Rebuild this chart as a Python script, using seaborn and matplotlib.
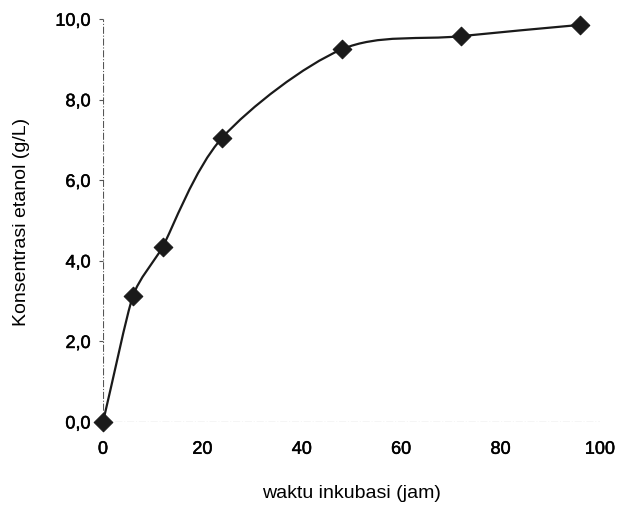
import numpy as np
import pandas as pd
import matplotlib
matplotlib.use("Agg")
import matplotlib.pyplot as plt
import matplotlib.patheffects as pe
from matplotlib.path import Path
from matplotlib.patches import PathPatch
import seaborn as sns

# data
waktu = [0, 6, 12, 24, 48, 72, 96]            # waktu inkubasi (jam)
etanol = [0.0, 3.12, 4.35, 7.06, 9.25, 9.58, 9.86]  # konsentrasi etanol (g/L)
x_ticks = [0, 20, 40, 60, 80, 100]
y_ticks = [0, 2, 4, 6, 8, 10]

df = pd.DataFrame({"waktu": waktu, "etanol": etanol})

sns.set_style("white")
plt.rcParams["font.family"] = ["Liberation Sans", "DejaVu Sans"]

fig = plt.figure(figsize=(6.22, 5.06), dpi=100)
ax = fig.add_axes([0.1656, 0.164, 0.799, 0.796])


def smooth_path(xs, ys, sx=4.97, sy=40.3):
    # smoothed line: cubic bezier segments through every point,
    # handle length limited by the shorter neighbouring segment
    pts = np.column_stack([np.asarray(xs, float) * sx, np.asarray(ys, float) * sy])
    n = len(pts)
    d = np.linalg.norm(np.diff(pts, axis=0), axis=1)
    unit, hlen = [], []
    for i in range(n):
        if i == 0:
            v, h = pts[1] - pts[0], d[0]
        elif i == n - 1:
            v, h = pts[-1] - pts[-2], d[-1]
        else:
            v, h = pts[i + 1] - pts[i - 1], min(d[i - 1], d[i])
        unit.append(v / np.linalg.norm(v))
        hlen.append(h / 3.0)
    verts = [pts[0]]
    codes = [Path.MOVETO]
    for i in range(n - 1):
        c1 = pts[i] + unit[i] * min(hlen[i], d[i] / 3.0)
        c2 = pts[i + 1] - unit[i + 1] * min(hlen[i + 1], d[i] / 3.0)
        verts += [c1, c2, pts[i + 1]]
        codes += [Path.CURVE4] * 3
    verts = np.array(verts) / [sx, sy]
    return Path(verts, codes)


ax.add_patch(PathPatch(smooth_path(df["waktu"], df["etanol"]), fill=False,
                       edgecolor="#1a1a1a", lw=1.6, zorder=3, clip_on=False))
sns.scatterplot(data=df, x="waktu", y="etanol", marker="D", s=90,
                color="#1a1a1a", edgecolor="#1a1a1a", ax=ax, zorder=4,
                clip_on=False)

ax.set_xlim(0, 100)
ax.set_ylim(0, 10)
for s in ["top", "right", "left", "bottom"]:
    ax.spines[s].set_visible(False)
ax.axvline(0, color="#555555", lw=0.8, ls="-.", zorder=1)
ax.axhline(0, color="#555555", lw=0.8, ls="-.", zorder=1)

bold = [pe.withStroke(linewidth=0.35, foreground="black")]
ax.set_xticks(x_ticks)
ax.set_yticks(y_ticks)
ax.set_xticklabels([str(t) for t in x_ticks], fontsize=13, color="black")
ax.set_yticklabels([f"{t:.1f}".replace(".", ",") for t in y_ticks], fontsize=13,
                   color="black")
for lab in ax.get_xticklabels() + ax.get_yticklabels():
    lab.set_path_effects(bold)
ax.tick_params(axis="y", left=True, length=3, width=0.8, color="#555555", pad=6)
ax.tick_params(axis="x", bottom=False, pad=10)

ax.set_xlabel("waktu inkubasi (jam)", fontsize=14, labelpad=19, color="black")
ax.set_ylabel("Konsentrasi etanol (g/L)", fontsize=14, labelpad=18, color="black")

fig.savefig("out.png", dpi=100)
